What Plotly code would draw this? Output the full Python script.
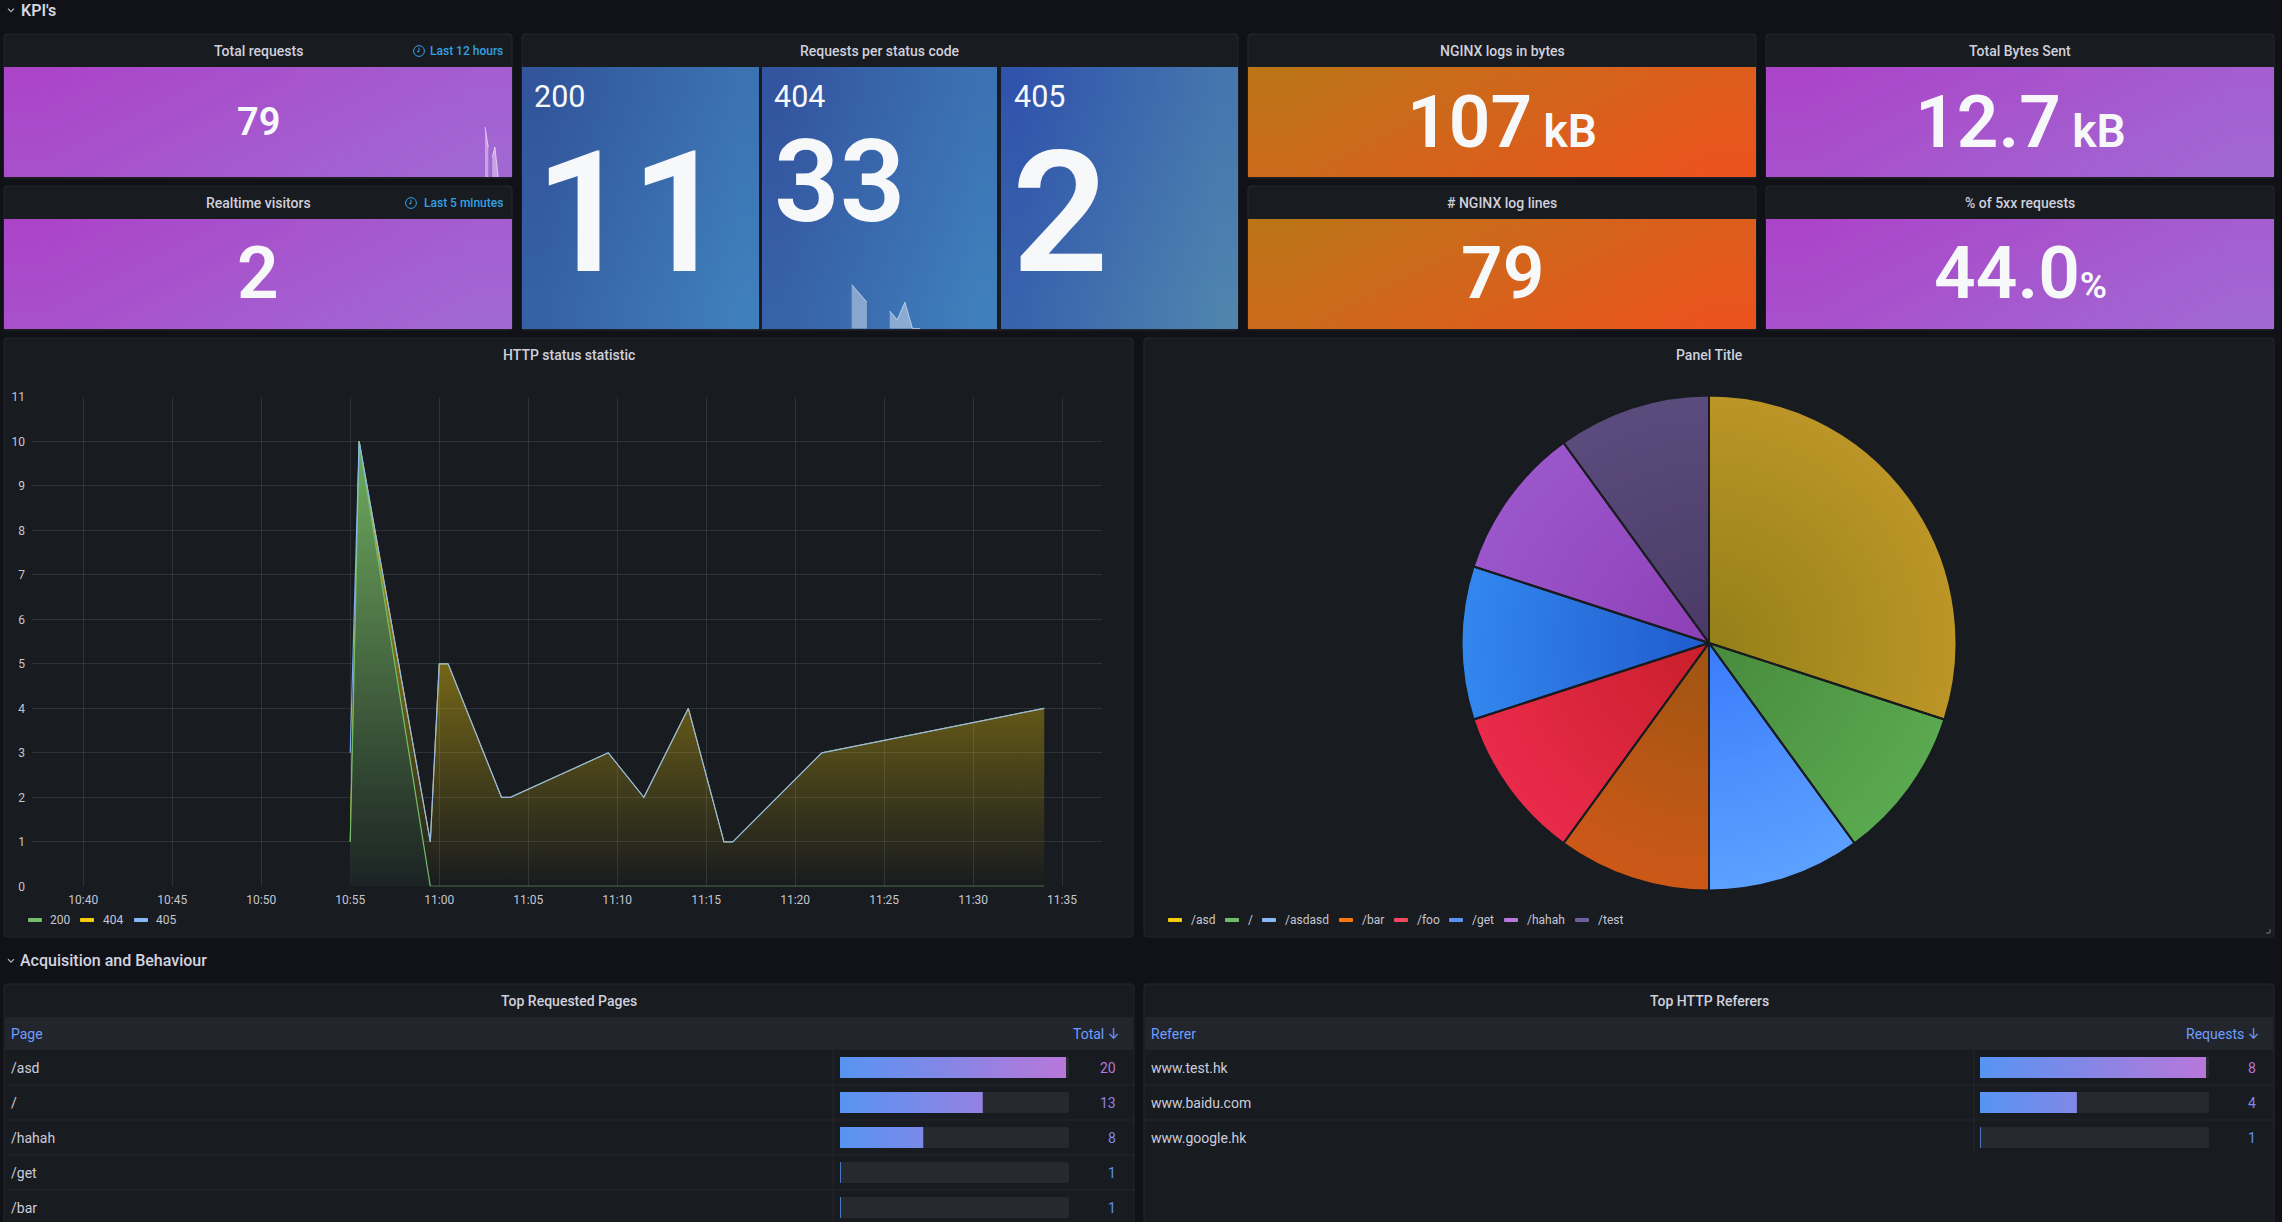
import plotly.graph_objects as go

W, H = 2282, 1222
FONT = "Roboto"
BG = "#111217"
PANEL = "#181b1f"
BORDER = "#24272c"
TEXT = "#ccccdc"

# ---- data ----
TIMES = ["10:55:00", "10:55:30", "10:59:30", "11:00:00", "11:00:30", "11:03:30", "11:04:00",
         "11:09:30", "11:11:30", "11:14:00", "11:16:00", "11:16:30", "11:21:30", "11:34:00"]
S200 = [1, 10, 0, 0, 0, 0, 0, 0, 0, 0, 0, 0, 0, 0]
S404 = [1, 10, 1, 5, 5, 2, 2, 3, 2, 4, 1, 1, 3, 4]
S405 = [3, 10, 1, 5, 5, 2, 2, 3, 2, 4, 1, 1, 3, 4]
STATUS_NAMES = ["200", "404", "405"]
STATUS_VALUES = ["11", "33", "2"]

PIE_LABELS = ["/asd", "/", "/asdasd", "/bar", "/foo", "/get", "/hahah", "/test"]
PIE_VALUES = [3, 1, 1, 1, 1, 1, 1, 1]
PIE_INNER = ["#937f18", "#478a3c", "#3a7bfb", "#9c5512", "#c81f2a", "#1f5acc", "#8e3fb5", "#4a3a64"]
PIE_OUTER = ["#bb9526", "#5aa84f", "#5ca0ff", "#cc5818", "#e92a4a", "#3386ee", "#9b56cc", "#5b4b7d"]
PIE_SWATCH = ["#f2cc0c", "#73bf69", "#8ab8ff", "#ff780a", "#f2495c", "#5794f2", "#b877d9", "#705da0"]

PAGES = ["/asd", "/", "/hahah", "/get", "/bar"]
PAGE_TOTALS = [20, 13, 8, 1, 1]
REFERERS = ["www.test.hk", "www.baidu.com", "www.google.hk"]
REFERER_REQUESTS = [8, 4, 1]

SPARK1_SEGMENTS = [([0, 1], [10, 6]), ([2.2, 3, 4], [4, 6, 0])]
SPARK2_SEGMENTS = [([0, 1, 2], [5, 4, 3]), ([5, 6, 7, 8, 9], [2, 1, 3, 0, 0])]

# ---- helpers ----
shapes, annotations = [], []
fig = go.Figure()


def hex_rgb(c):
    c = c.lstrip("#")
    return tuple(int(c[i:i + 2], 16) for i in (0, 2, 4))


def mix(a, b, t):
    ra, rb = hex_rgb(a), hex_rgb(b)
    return "#%02x%02x%02x" % tuple(round(p + (q - p) * t) for p, q in zip(ra, rb))


def text(x, y, s, size=14, color=TEXT, anchor="center", weight=400):
    annotations.append(dict(x=x, y=y, xref="x", yref="y", text=s, showarrow=False, xanchor=anchor,
                            yanchor="middle", borderpad=0,
                            font=dict(family=FONT, size=size, color=color, weight=weight)))


def rect(x0, y0, x1, y1, fill, line=None, r=0):
    if r:
        p = (f"M {x0 + r} {y0} L {x1 - r} {y0} Q {x1} {y0} {x1} {y0 + r} L {x1} {y1 - r} Q {x1} {y1} {x1 - r} {y1} "
             f"L {x0 + r} {y1} Q {x0} {y1} {x0} {y1 - r} L {x0} {y0 + r} Q {x0} {y0} {x0 + r} {y0} Z")
        shapes.append(dict(type="path", path=p, xref="x", yref="y", fillcolor=fill, layer="below",
                           line=dict(color=line or fill, width=1 if line else 0)))
    else:
        shapes.append(dict(type="rect", x0=x0, y0=y0, x1=x1, y1=y1, xref="x", yref="y", fillcolor=fill, layer="below",
                           line=dict(color=line or fill, width=1 if line else 0)))


def panel(x0, y0, x1, y1, title=None):
    rect(x0, y0, x1, y1, PANEL, BORDER, r=3)
    if title:
        text((x0 + x1) / 2, y0 + 17, title, size=14, weight=500, color="#d0d0dc")


def gradient(x0, y0, x1, y1, c0, c1):
    n = 6
    xs = [x0 + (x1 - x0) * i / n for i in range(n + 1)]
    ys = [y0 + (y1 - y0) * j / n for j in range(n + 1)]
    z = [[(i * 1.4 + j * 0.6) / (2 * (n - 1)) for i in range(n)] for j in range(n)]
    fig.add_trace(go.Heatmap(x=xs, y=ys, z=z, zmin=0, zmax=1, zsmooth="best", showscale=False, hoverinfo="skip",
                             colorscale=[[0, c0], [1, c1]], xaxis="x", yaxis="y"))


def xdom(a, b):
    return [a / W, b / W]


def ydom(top, bottom):
    return [1 - bottom / H, 1 - top / H]


def chevron(y):
    shapes.append(dict(type="path", path=f"M 8 {y - 1.3} L 11 {y + 1.7} L 14 {y - 1.3}", xref="x", yref="y",
                       line=dict(color="#b8b8c6", width=1.2)))


def clock(cx, cy):
    r = 5.4
    shapes.append(dict(type="circle", x0=cx - r, x1=cx + r, y0=cy - r, y1=cy + r, xref="x", yref="y",
                       line=dict(color="#33a2e5", width=1)))
    shapes.append(dict(type="path", path=f"M {cx} {cy - 3.4} L {cx} {cy + 0.6} L {cx - 2} {cy + 0.6}", xref="x",
                       yref="y", line=dict(color="#33a2e5", width=1)))


PURPLE = ("#ab45c8", "#a168d3")
ORANGE = ("#bd7418", "#eb531e")
WHITE = "#f7f8fa"
VW = 600

# ---- section rows ----
chevron(10)
text(20, 10.5, "KPI's", size=16, weight=600, color="#d4d4e0", anchor="left")
chevron(960.5)
text(19, 960.5, "Acquisition and Behaviour", size=16, weight=500, color="#d4d4e0", anchor="left")

# ---- stat panels ----
panel(4, 34, 512, 178, "Total requests")
gradient(4, 67, 512, 177, *PURPLE)
panel(4, 186, 512, 330, "Realtime visitors")
gradient(4, 219, 512, 329, *PURPLE)
text(258, 122, "79", size=38, weight=VW, color=WHITE)
text(258, 273, "2", size=73, weight=VW, color=WHITE)
clock(419, 51)
text(504, 51, "Last 12 hours", size=12, weight=500, color="#33a2e5", anchor="right")
clock(411, 203)
text(504, 203, "Last 5 minutes", size=12, weight=500, color="#33a2e5", anchor="right")

panel(522, 34, 1238, 330, "Requests per status code")
SUBS = [(522, 759, "#32559b", "#3f7fbc", 533, 534, 213), (762, 997, "#33549f", "#3f7fbc", 773, 773, 181),
        (1001, 1238, "#3054ac", "#4e84ae", 1012.5, 1011, 213)]
STATUS_SIZES = [168, 115, 169]
for (a, b, c0, c1, tx, vx, vy), name, val, sz in zip(SUBS, STATUS_NAMES, STATUS_VALUES, STATUS_SIZES):
    gradient(a, 67, b, 329, c0, c1)
    text(tx, 96, name, size=30.5, weight=400, color=WHITE, anchor="left")
    text(vx, vy, val, size=sz, weight=VW, color=WHITE, anchor="left")

panel(1248, 34, 1756, 178, "NGINX logs in bytes")
gradient(1248, 67, 1756, 177, *ORANGE)
panel(1248, 186, 1756, 330, "# NGINX log lines")
gradient(1248, 219, 1756, 329, *ORANGE)
panel(1766, 34, 2274, 178, "Total Bytes Sent")
gradient(1766, 67, 2274, 177, *PURPLE)
panel(1766, 186, 2274, 330, "% of 5xx requests")
gradient(1766, 219, 2274, 329, *PURPLE)
text(1502, 122, "107<span style='font-size:46px'> kB</span>", size=73, weight=VW, color=WHITE)
text(2020, 122, "12.7<span style='font-size:46px'> kB</span>", size=73, weight=VW, color=WHITE)
text(1502, 273, "79", size=73, weight=VW, color=WHITE)
text(2020, 273, "44.0<span style='font-size:37px'>%</span>", size=73, weight=VW, color=WHITE)

# ---- sparklines ----
for segs, xa, ya in [(SPARK1_SEGMENTS, "x3", "y3"), (SPARK2_SEGMENTS, "x4", "y4")]:
    for xs, ys in segs:
        fig.add_trace(go.Scatter(x=xs, y=ys, xaxis=xa, yaxis=ya, mode="lines", fill="tozeroy",
                                 fillcolor="rgba(255,255,255,0.4)", line=dict(color="rgba(255,255,255,0.55)", width=1),
                                 hoverinfo="skip", showlegend=False))

# ---- time series panel ----
panel(4, 338, 1133, 937, "HTTP status statistic")
T = ["2024-01-01 " + t for t in TIMES]
YELLOW, GREEN, BLUE = "#f2cc0c", "#73bf69", "rgba(138,184,255,0.9)"
fig.add_trace(go.Scatter(x=T, y=S404, name="404", xaxis="x2", yaxis="y2", mode="lines", fill="tozeroy",
                         line=dict(color=YELLOW, width=1), hoverinfo="skip", showlegend=False,
                         fillgradient=dict(type="vertical", start=0, stop=10,
                                           colorscale=[[0, "rgba(242,204,12,0)"], [1, "rgba(242,204,12,0.85)"]])))
fig.add_trace(go.Scatter(x=T, y=S200, name="200", xaxis="x2", yaxis="y2", mode="lines", fill="tozeroy",
                         line=dict(color=GREEN, width=1.2), hoverinfo="skip", showlegend=False,
                         fillgradient=dict(type="vertical", start=0, stop=10,
                                           colorscale=[[0, "rgba(27,36,36,0.9)"], [1, "rgba(106,172,100,0.95)"]])))
fig.add_trace(go.Scatter(x=T, y=S405, name="405", xaxis="x2", yaxis="y2", mode="lines",
                         line=dict(color=BLUE, width=1.2), hoverinfo="skip", showlegend=False))


def legend(swx, txx, labels, colors, y=920):
    for sx, tx, lab, c in zip(swx, txx, labels, colors):
        rect(sx, y - 2, sx + 14, y + 2, c, r=1)
        text(tx, y, lab, size=12, anchor="left", color="#c6c6d2")


legend([28, 80, 134], [49, 102, 155], STATUS_NAMES, ["#73bf69", "#f2cc0c", "#8ab8ff"])

# ---- pie panel ----
panel(1144, 338, 2274, 937, "Panel Title")
CX, CY, R = 1709, 643, 247.5
RINGS = 36
for k in range(RINGS):
    t = 1 - k / RINGS
    r = R * t
    fig.add_trace(go.Pie(labels=PIE_LABELS, values=PIE_VALUES, sort=False, direction="clockwise", rotation=0,
                         textinfo="none", hoverinfo="skip", showlegend=False,
                         domain=dict(x=[(CX - r) / W, (CX + r) / W], y=[1 - (CY + r) / H, 1 - (CY - r) / H]),
                         marker=dict(colors=[mix(a, b, t) for a, b in zip(PIE_INNER, PIE_OUTER)],
                                     line=dict(width=0))))
fig.add_trace(go.Pie(labels=PIE_LABELS, values=PIE_VALUES, sort=False, direction="clockwise", rotation=0,
                     textinfo="none", hoverinfo="skip", showlegend=False,
                     domain=dict(x=[(CX - R) / W, (CX + R) / W], y=[1 - (CY + R) / H, 1 - (CY - R) / H]),
                     marker=dict(colors=["rgba(0,0,0,0)"] * len(PIE_VALUES), line=dict(color=PANEL, width=2))))
legend([1168, 1225, 1262, 1339, 1394, 1449, 1504, 1575], [1190, 1247, 1284, 1361, 1416, 1471, 1526, 1597],
       PIE_LABELS, PIE_SWATCH)
shapes.append(dict(type="path", path="M 2266 933 L 2270 933 L 2270 929", xref="x", yref="y",
                   line=dict(color="#777a80", width=1)))

# ---- tables ----
LOW, HIGH = "#5794f2", "#b877d9"


def table(x0, x1, title, col1, col2, names, vals, colx, barx0, barx1, numx, xaxis):
    panel(x0, 984, x1, 1240, title)
    rect(x0 + 1, 1017, x1 - 1, 1050, "#22252b")
    text(x0 + 6, 1033.5, col1, size=14, color="#6e9fff", anchor="left", weight=400)
    text(numx + 3, 1033.5, col2 + " <span style='font-family:Inter'>↓</span>", size=14, color="#6e9fff",
         anchor="right", weight=400)
    shapes.append(dict(type="line", x0=colx, x1=colx, y0=1017, y1=1050 + 35 * len(names), xref="x", yref="y",
                       line=dict(color="#24272c", width=1)))
    top = max(vals)
    for i, (n, v) in enumerate(zip(names, vals)):
        cy = 1050 + 35 * (i + 0.5)
        if i < len(names) - 1 or len(names) == 5:
            shapes.append(dict(type="line", x0=x0, x1=x1, y0=cy + 17.5, y1=cy + 17.5, xref="x", yref="y",
                               line=dict(color="#24272c", width=1)))
        rect(barx0, cy - 10.5, barx1, cy + 10.5, "#26292e", r=2)
        text(x0 + 6, cy, n, size=14, anchor="left")
        text(numx, cy, str(v), size=14, anchor="right", color=mix(LOW, HIGH, (v - 1) / (top - 1)))
        fig.add_trace(go.Scatter(x=[1, v, v, 1, 1], y=[cy - 10.5, cy - 10.5, cy + 10.5, cy + 10.5, cy - 10.5],
                                 xaxis=xaxis, yaxis="y", mode="lines", fill="toself", hoverinfo="skip",
                                 showlegend=False, line=dict(color=LOW, width=1 if v == 1 else 0),
                                 fillgradient=dict(type="horizontal", start=1, stop=top,
                                                   colorscale=[[0, LOW], [1, HIGH]])))


table(4, 1134, "Top Requested Pages", "Page", "Total", PAGES, PAGE_TOTALS, 833, 840, 1069, 1117, "x5")
table(1144, 2274, "Top HTTP Referers", "Referer", "Requests", REFERERS, REFERER_REQUESTS, 1974, 1980, 2209, 2257, "x6")

# ---- layout ----
hidden = dict(visible=False, fixedrange=True)
fig.update_layout(
    width=W, height=H, autosize=False, margin=dict(l=0, r=0, t=0, b=0, pad=0, autoexpand=False),
    paper_bgcolor=BG, plot_bgcolor="rgba(0,0,0,0)",
    showlegend=False, shapes=shapes, annotations=annotations,
    font=dict(family=FONT, color=TEXT),
    xaxis=dict(range=[0, W], domain=[0, 1], **hidden),
    yaxis=dict(range=[H, 0], domain=[0, 1], **hidden),
    xaxis2=dict(type="date", domain=xdom(32, 1101.5), range=["2024-01-01 10:37:07", "2024-01-01 11:37:13"],
                anchor="y2", tickformat="%H:%M", dtick=300000, tick0="2024-01-01 10:00:00", showgrid=True,
                gridcolor="rgba(204,204,220,0.13)", gridwidth=1, zeroline=False, showline=False, ticks="",
                ticklabelstandoff=5,
                tickfont=dict(family=FONT, size=12, color="#c6c6d2"), fixedrange=True),
    yaxis2=dict(domain=ydom(396.8, 886.3), range=[0, 11], anchor="x2", dtick=1, tick0=0, showgrid=True,
                gridcolor="rgba(204,204,220,0.13)", gridwidth=1, zeroline=False, showline=False, ticks="",
                ticklabelstandoff=6,
                tickfont=dict(family=FONT, size=12, color="#c6c6d2"), fixedrange=True),
    xaxis3=dict(domain=xdom(4, 512), range=[(4 - 485) / 3.3, (512 - 485) / 3.3], anchor="y3", **hidden),
    yaxis3=dict(domain=ydom(67, 177), range=[0, 22], anchor="x3", **hidden),
    xaxis4=dict(domain=xdom(762, 997), range=[(762 - 851.7) / 7.6, (997 - 851.7) / 7.6], anchor="y4", **hidden),
    yaxis4=dict(domain=ydom(67, 329), range=[-0.05, 29.7], anchor="x4", **hidden),
    xaxis5=dict(domain=xdom(840, 1069), range=[1, 1 + 19 * 229 / 226], anchor="y", **hidden),
    xaxis6=dict(domain=xdom(1980, 2209), range=[1, 1 + 7 * 229 / 226], anchor="y", **hidden),
)

fig.write_html("out.html", config=dict(displayModeBar=False),
               post_script="document.body.style.margin='0';document.body.style.overflow='hidden';")
